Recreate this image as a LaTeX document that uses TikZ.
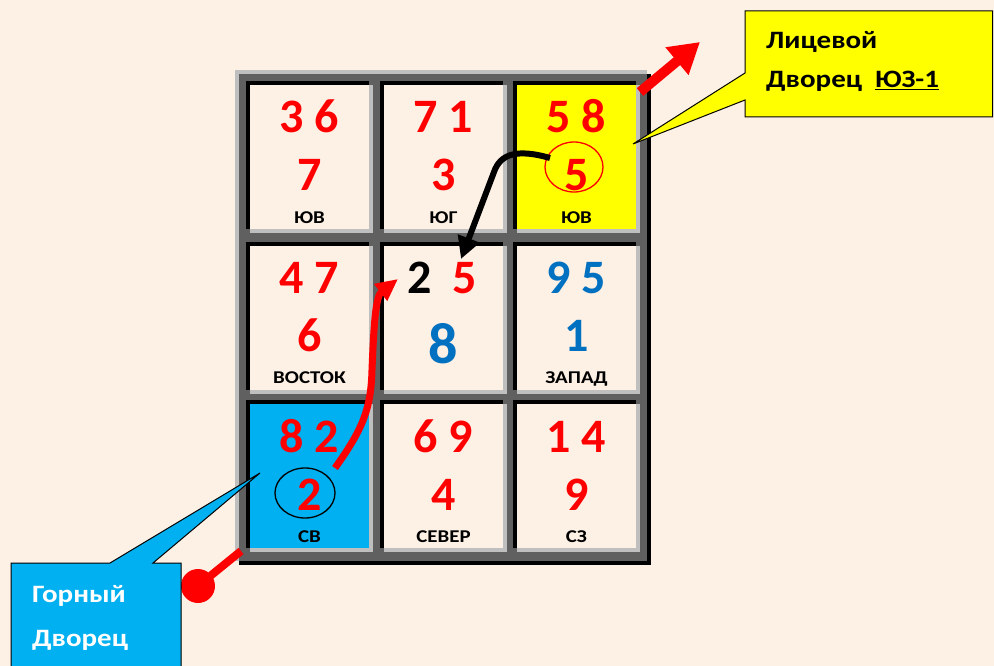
\documentclass[tikz,border=0pt]{standalone}
\usepackage{fontspec}
\setmainfont{Carlito}
\usetikzlibrary{arrows.meta}
\definecolor{bg}{RGB}{253,240,228}
\definecolor{dgray}{RGB}{96,96,96}
\definecolor{lgray}{RGB}{191,191,191}
\definecolor{cblue}{RGB}{0,112,192}
\definecolor{cellblue}{RGB}{0,176,240}
\definecolor{cyell}{RGB}{255,255,0}
\newcommand\gridcell[4]{%
  \fill[black] (#2-4,#3-4) rectangle (#2+119,#3+144);
  \fill[lgray] (#2,#3) rectangle (#2+123,#3+148);
  \fill[#4] (#2,#3) rectangle (#2+119,#3+144);
  \node[inner sep=0, minimum width=119, minimum height=144, anchor=north west] (#1) at (#2,#3) {};
}
\newcommand\wide[1]{\scalebox{1.16}[1]{#1}}
\begin{document}
\begin{tikzpicture}[x=1pt,y=-1pt,
  dig/.style={font=\fontsize{48}{48}\selectfont\bfseries, inner sep=0, anchor=base},
  bigdig/.style={font=\fontsize{58}{58}\selectfont\bfseries, inner sep=0, anchor=base},
  lab/.style={font=\fontsize{18}{18}\selectfont\bfseries, inner sep=0, anchor=base},
  calltext/.style={font=\fontsize{25}{25}\selectfont\bfseries, inner sep=0, anchor=base west},
  ring/.style={line width=1.3pt}]
\fill[bg] (0,0) rectangle (994,666);
\useasboundingbox (0,0) rectangle (994,666);
% outer frame
\fill[lgray] (235,70) rectangle (647,561);
\fill[black] (239,74) rectangle (651,565);
\fill[dgray] (239,74) rectangle (647,561);
% cells
\gridcell{c11}{250}{85}{bg}
\gridcell{c12}{384}{85}{bg}
\gridcell{c13}{517}{85}{cyell}
\gridcell{c21}{250}{246}{bg}
\gridcell{c22}{384}{246}{bg}
\gridcell{c23}{517}{246}{bg}
\gridcell{c31}{250}{404}{cellblue}
\gridcell{c32}{384}{404}{bg}
\gridcell{c33}{517}{404}{bg}
% row 1
\node[dig,red] (t11a) at (309.5,133) {3 6};
\node[dig,red] (t11b) at (309.5,191) {7};
\node[lab] (t11c) at (309.5,223) {\wide{ЮВ}};
\node[dig,red] (t12a) at (443.5,133) {7 1};
\node[dig,red] (t12b) at (443.5,191) {3};
\node[lab] (t12c) at (443.5,223) {\wide{ЮГ}};
\node[dig,red] (t13a) at (576.5,133) {5 8};
\node[dig,red] (t13b) at (576.5,191) {5};
\node[lab] (t13c) at (576.5,223) {\wide{ЮВ}};
% row 2
\node[dig,red] (t21a) at (309.5,293) {4 7};
\node[dig,red] (t21b) at (309.5,351) {6};
\node[lab] (t21c) at (309.5,383) {\wide{ВОСТОК}};
\node[dig,black] (t22a) at (420,293) {2};
\node[dig,red] (t22b) at (465,293) {5};
\node[bigdig,cblue] (t22c) at (443.5,363) {8};
\node[dig,cblue] (t23a) at (576.5,293) {9 5};
\node[dig,cblue] (t23b) at (576.5,351) {1};
\node[lab] (t23c) at (576.5,383) {\wide{ЗАПАД}};
% row 3
\node[dig,red] (t31a) at (309.5,452) {8 2};
\node[dig,red] (t31b) at (309.5,510) {2};
\node[lab] (t31c) at (309.5,542) {\wide{СВ}};
\node[dig,red] (t32a) at (443.5,452) {6 9};
\node[dig,red] (t32b) at (443.5,510) {4};
\node[lab] (t32c) at (443.5,542) {\wide{СЕВЕР}};
\node[dig,red] (t33a) at (576.5,452) {1 4};
\node[dig,red] (t33b) at (576.5,510) {9};
\node[lab] (t33c) at (576.5,542) {\wide{СЗ}};
% rings
\draw[ring,red] (574,167) ellipse [x radius=29, y radius=25];
\draw[ring,black] (305,493) ellipse [x radius=30, y radius=25];
% curved arrows
\coordinate (rs) at (335,468);
\coordinate (re) at (398,279);
\draw[red, line width=7pt, -{Triangle[length=22pt,width=20pt]}]
  (rs) .. controls (362,430) and (371,410) .. (372,370)
  .. controls (374,320) and (376,296) .. (re);
\coordinate (bs) at (550,158);
\coordinate (be) at (461,259);
\draw[black, line width=6pt, -{Triangle[length=22pt,width=22pt]}]
  (bs) .. controls (515,148) and (500,155) .. (494,172) -- (be);
% red straight arrow top right
\coordinate (as) at (640,92);
\coordinate (ae) at (700,42);
\draw[red, line width=10pt, -{Triangle[length=30pt,width=34pt]}] (as) -- (ae);
% red lollipop bottom left
\coordinate (ls) at (241,551);
\coordinate (le) at (198,586);
\draw[red, line width=8pt] (ls) -- (le);
\fill[red] (le) circle [radius=17];
% yellow callout
\coordinate (ytip) at (633,144);
\draw[fill=cyell, line width=1pt] (745,11) -- (992.5,11) -- (992.5,117) -- (745,117)
  -- (745,100) -- (ytip) -- (745,73) -- cycle;
\node[calltext] (y1) at (766,49) {\wide{Лицевой}};
\node[calltext] (y2) at (766,88) {\wide{Дворец\ \ \underline{ЮЗ-1}}};
% blue callout
\coordinate (btip) at (260,473);
\draw[fill=cellblue, line width=1pt] (11,680) -- (11,563) -- (110,563) -- (btip)
  -- (153,563) -- (181,563) -- (181,680);
\node[calltext,white] (b1) at (32,602) {\wide{Горный}};
\node[calltext,white] (b2) at (32,646) {\wide{Дворец}};
\end{tikzpicture}
\end{document}
